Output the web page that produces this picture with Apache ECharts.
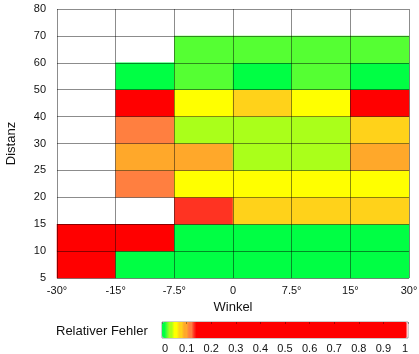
<!DOCTYPE html>
<html>
<head>
<meta charset="utf-8">
<script src="https://cdn.jsdelivr.net/npm/echarts@6/dist/echarts.min.js"></script>
<style>html,body{margin:0;padding:0;background:#fff}#c{width:419px;height:354px}</style>
</head>
<body>
<div id="c"></div>
<script>
// Tick labels at the cell edges
const xEdgeLabels = ['-30°', '-15°', '-7.5°', '0', '7.5°', '15°', '30°'];
const yEdgeLabels = ['5', '10', '15', '20', '25', '30', '40', '50', '60', '70', '80'];
// Cell categories (bands between edges)
const winkelBands = ['-30..-15', '-15..-7.5', '-7.5..0', '0..7.5', '7.5..15', '15..30'];
const distanzBands = ['5..10', '10..15', '15..20', '20..25', '25..30', '30..40', '40..50', '50..60', '60..70', '70..80'];
// Relative error per distance band (columns follow winkelBands); null = no data
const row5_10   = [0.45, 0.01, 0.01, 0.01, 0.01, 0.01];
const row10_15  = [0.40, 0.50, 0.01, 0.01, 0.01, 0.01];
const row15_20  = [null, null, 0.13, 0.08, 0.08, 0.08];
const row20_25  = [null, 0.12, 0.06, 0.06, 0.06, 0.06];
const row25_30  = [null, 0.10, 0.10, 0.04, 0.04, 0.10];
const row30_40  = [null, 0.12, 0.04, 0.04, 0.04, 0.08];
const row40_50  = [null, 0.60, 0.06, 0.08, 0.06, 0.50];
const row50_60  = [null, 0.01, 0.02, 0.01, 0.02, 0.01];
const row60_70  = [null, null, 0.02, 0.02, 0.02, 0.02];
const row70_80  = [null, null, null, null, null, null];
const rows = [row5_10, row10_15, row15_20, row20_25, row25_30, row30_40, row40_50, row50_60, row60_70, row70_80];

const data = [];
rows.forEach((r, yi) => r.forEach((v, xi) => { if (v !== null) data.push([xi, yi, v]); }));

// Colour map (style): 101 stops over 0..1
function cmap(i) {
  if (i <= 1) return '#00ff44';
  if (i === 2) return '#55ff33';
  if (i <= 4) return '#aaff1a';
  if (i <= 6) return '#ffff00';
  if (i <= 8) return '#ffd21a';
  if (i <= 10) return '#ffa82a';
  if (i <= 12) return '#ff7f40';
  if (i === 13) return '#ff3322';
  if (i <= 99) return '#ff0000';
  return '#ffffff';
}
const colors = [];
for (let i = 0; i <= 100; i++) colors.push(cmap(i));

const FONT = "'Liberation Sans', Arial, sans-serif";
const chart = echarts.init(document.getElementById('c'), null, {renderer: 'canvas'});
chart.setOption({
  animation: false,
  textStyle: {fontFamily: FONT},
  grid: [
    {left: 57, top: 9, width: 352, height: 269, containLabel: false, outerBoundsMode: 'none'},
    {left: 162, top: 322, width: 246, height: 16, show: true, borderColor: '#999', borderWidth: 1,
     containLabel: false, outerBoundsMode: 'none'}
  ],
  xAxis: [
    {type: 'category', gridIndex: 0, data: winkelBands, show: false},
    {type: 'value', gridIndex: 0, min: 0, max: 6, interval: 1, position: 'bottom', z: 5,
     name: 'Winkel', nameLocation: 'middle', nameGap: 22,
     nameTextStyle: {fontSize: 13, color: '#111', fontFamily: FONT},
     axisLine: {show: false}, axisTick: {show: false},
     axisLabel: {fontSize: 11, color: '#111', margin: 7, fontFamily: FONT, formatter: v => xEdgeLabels[v]},
     splitLine: {show: true, lineStyle: {color: 'rgba(0,0,0,0.45)', width: 1}}},
    {type: 'value', gridIndex: 1, min: 0, max: 1, interval: 0.1, position: 'bottom', z: 10,
     axisLine: {show: false}, axisTick: {show: false}, splitLine: {show: false},
     axisLabel: {fontSize: 11, color: '#111', margin: 5, fontFamily: FONT,
       alignMinLabel: 'left', alignMaxLabel: 'right',
       formatter: v => (Math.round(v * 10) / 10).toString()}},
    {type: 'value', gridIndex: 1, min: 0, max: 1, interval: 0.1, position: 'top', z: 10,
     axisLine: {show: false}, axisLabel: {show: false}, splitLine: {show: false},
     axisTick: {show: true, inside: true, length: 2, lineStyle: {color: 'rgba(0,0,0,0.35)'}}}
  ],
  yAxis: [
    {type: 'category', gridIndex: 0, data: distanzBands, show: false},
    {type: 'value', gridIndex: 0, min: 0, max: 10, interval: 1, z: 5, position: 'left',
     name: 'Distanz', nameLocation: 'middle', nameGap: 39, nameRotate: 90,
     nameTextStyle: {fontSize: 13, color: '#111', fontFamily: FONT},
     axisLine: {show: false}, axisTick: {show: false},
     axisLabel: {fontSize: 11, color: '#111', margin: 11, fontFamily: FONT, formatter: v => yEdgeLabels[v]},
     splitLine: {show: true, lineStyle: {color: 'rgba(0,0,0,0.45)', width: 1}}},
    {type: 'value', gridIndex: 1, min: 0, max: 1, show: false}
  ],
  visualMap: {
    type: 'continuous', min: 0, max: 1, dimension: 2, seriesIndex: 0,
    orient: 'horizontal', left: 162, top: 322, itemWidth: 16, itemHeight: 246,
    padding: 0, calculable: false, text: null, showLabel: false, hoverLink: false,
    inRange: {color: colors}
  },
  graphic: [
    {type: 'text', left: 56, top: 325,
     style: {text: 'Relativer Fehler', fontSize: 13, fill: '#111', font: "13px 'Liberation Sans', Arial, sans-serif"}}
  ],
  series: [{
    type: 'heatmap', xAxisIndex: 0, yAxisIndex: 0, data: data,
    itemStyle: {borderWidth: 0},
    emphasis: {disabled: true}
  }]
});
</script>
</body>
</html>
